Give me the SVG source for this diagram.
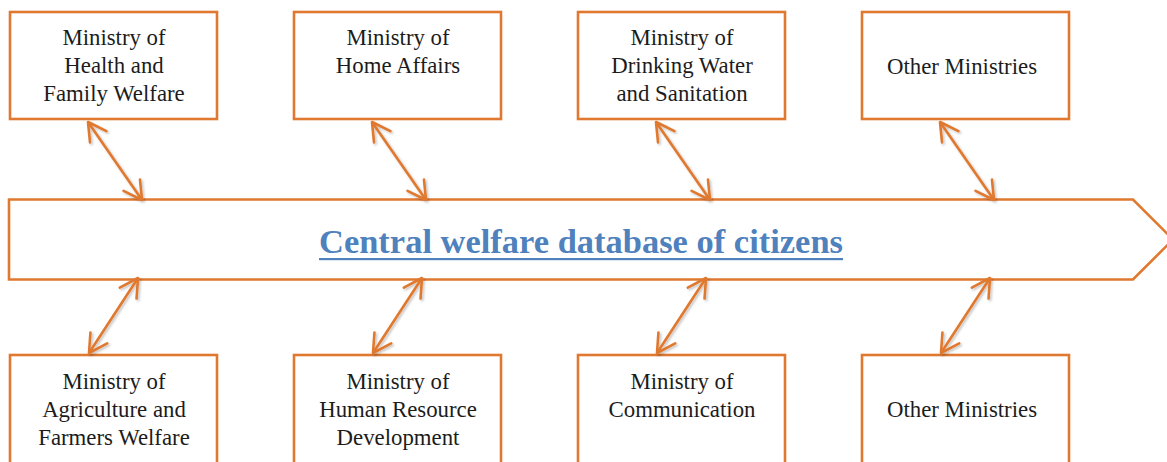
<svg xmlns="http://www.w3.org/2000/svg" width="1167" height="462" viewBox="0 0 1167 462">
<style>
.box{fill:#fff;stroke:#E0782F;stroke-width:2.6}
.lbl{font-family:"Liberation Serif","Times New Roman",serif;font-size:22.8px;fill:#1c1c1c;text-anchor:middle}
.con{stroke:#E0782F;stroke-width:2.6;fill:none;marker-start:url(#ah);marker-end:url(#ah)}
.title{font-family:"Liberation Serif","Times New Roman",serif;font-size:34.4px;font-weight:bold;fill:#4F81BD}
</style>
<defs>
<marker id="ah" viewBox="0 0 26 26" refX="22" refY="13" markerWidth="26" markerHeight="26" markerUnits="userSpaceOnUse" orient="auto-start-reverse">
<path d="M4,3 L22,13 L4,23" fill="none" stroke="#E0782F" stroke-width="2.6" stroke-linecap="round" stroke-linejoin="round"/>
</marker>
<filter id="sh" x="-10%" y="-10%" width="130%" height="130%">
<feDropShadow dx="1.5" dy="1.5" stdDeviation="1.2" flood-color="#000" flood-opacity="0.25"/>
</filter>
</defs>
<g id="central">
<polygon class="box" points="9,199.5 1133,199.5 1173,239.5 1133,279.5 9,279.5"/>
<text class="title" x="319" y="253" textLength="524" lengthAdjust="spacingAndGlyphs">Central welfare database of citizens</text>
<rect x="319" y="258" width="524" height="2.2" fill="#4F81BD"/>
</g>
<g id="n1"><rect class="box" x="10" y="12" width="207" height="107"/>
<text class="lbl" x="114" y="45">Ministry of</text><text class="lbl" x="114" y="73">Health and</text><text class="lbl" x="114" y="101">Family Welfare</text></g>
<g id="n2"><rect class="box" x="294" y="12" width="207" height="107"/>
<text class="lbl" x="398" y="45">Ministry of</text><text class="lbl" x="398" y="73">Home Affairs</text></g>
<g id="n3"><rect class="box" x="578" y="12" width="207" height="107"/>
<text class="lbl" x="682" y="45">Ministry of</text><text class="lbl" x="682" y="73">Drinking Water</text><text class="lbl" x="682" y="101">and Sanitation</text></g>
<g id="n4"><rect class="box" x="862" y="12" width="207" height="107"/>
<text class="lbl" x="962" y="74">Other Ministries</text></g>
<g id="n5"><rect class="box" x="10" y="355" width="207" height="120"/>
<text class="lbl" x="114" y="389">Ministry of</text><text class="lbl" x="114" y="417">Agriculture and</text><text class="lbl" x="114" y="445">Farmers Welfare</text></g>
<g id="n6"><rect class="box" x="294" y="355" width="207" height="120"/>
<text class="lbl" x="398" y="389">Ministry of</text><text class="lbl" x="398" y="417">Human Resource</text><text class="lbl" x="398" y="445">Development</text></g>
<g id="n7"><rect class="box" x="578" y="355" width="207" height="120"/>
<text class="lbl" x="682" y="389">Ministry of</text><text class="lbl" x="682" y="417">Communication</text></g>
<g id="n8"><rect class="box" x="862" y="355" width="207" height="120"/>
<text class="lbl" x="962" y="417">Other Ministries</text></g>
<g id="connectors" filter="url(#sh)">
<line class="con" x1="88" y1="122" x2="142" y2="200"/>
<line class="con" x1="372" y1="122" x2="426" y2="200"/>
<line class="con" x1="656" y1="122" x2="710" y2="200"/>
<line class="con" x1="940" y1="122" x2="994" y2="200"/>
<line class="con" x1="138" y1="278" x2="89" y2="353"/>
<line class="con" x1="422" y1="278" x2="373" y2="353"/>
<line class="con" x1="706" y1="278" x2="657" y2="353"/>
<line class="con" x1="990" y1="278" x2="941" y2="353"/>
</g>
</svg>
